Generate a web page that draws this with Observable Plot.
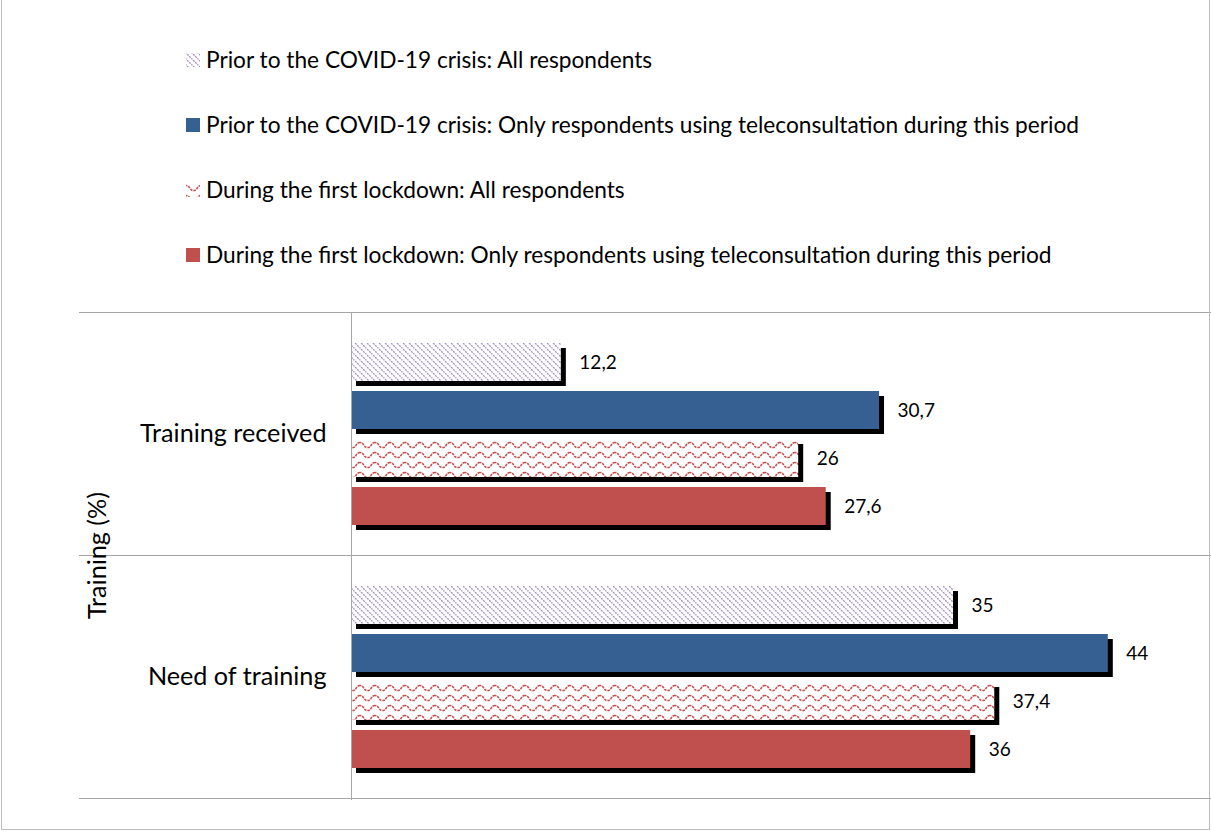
<!DOCTYPE html>
<html>
<head>
<meta charset="utf-8">
<script src="https://cdn.jsdelivr.net/npm/d3@7"></script>
<script src="https://cdn.jsdelivr.net/npm/@observablehq/plot@0.6"></script>
<style>
  html, body { margin: 0; padding: 0; background: #fff; }
  #wrap { position: relative; width: 1211px; height: 832px; overflow: hidden; font-family: Lato, "Open Sans", sans-serif; color: #000; }
  #border { position: absolute; left: 1px; top: -2px; width: 1207px; height: 831px; border-left: 1px solid #bdbdbd; border-right: 1px solid #bdbdbd; border-bottom: 1px solid #bdbdbd; pointer-events: none; }
  #legend { position: absolute; left: 186px; top: 27px; }
  .row { height: 65px; display: flex; align-items: center; font-size: 22.7px; white-space: nowrap; }
  .sw { width: 14px; height: 14px; margin-right: 6px; flex: none; }
  #chart { position: absolute; left: 0; top: 0; }
</style>
</head>
<body>
<div id="wrap">
  <div id="chart"></div>
  <div id="legend"></div>
  <div id="border"></div>
</div>
<script>
// ---- data ----
const categories = ["Training received", "Need of training"];
const series = [
  "Prior to the COVID-19 crisis: All respondents",
  "Prior to the COVID-19 crisis: Only respondents using teleconsultation during this period",
  "During the first lockdown: All respondents",
  "During the first lockdown: Only respondents using teleconsultation during this period"
];
const trainingReceived = [12.2, 30.7, 26, 27.6];
const needOfTraining = [35, 44, 37.4, 36];
const axisTitle = "Training (%)";

// ---- styles ----
const fills = ["url(#pat-diag)", "#376092", "url(#pat-wave)", "#c0504d"];
const gridColor = "#a6a6a6";

const rows = [];
[trainingReceived, needOfTraining].forEach((vals, ci) => {
  vals.forEach((v, si) => rows.push({category: categories[ci], series: series[si], value: v}));
});
const fmt = v => String(v).replace(".", ",");

const defs = `
<defs>
  <pattern id="pat-diag" patternUnits="userSpaceOnUse" width="6" height="6">
    <rect width="6" height="6" fill="#fff"/>
    <path d="M-1,-1 L7,7 M-1,5 L1,7 M5,-1 L7,1" stroke="#9f8ac8" stroke-width="1.3" stroke-dasharray="2 1"/>
  </pattern>
  <pattern id="pat-wave" patternUnits="userSpaceOnUse" width="15" height="10">
    <rect width="15" height="10" fill="#fff"/>
    <path d="M-3.75,5 Q-2.5,2.5 0,2.5 Q2.5,2.5 3.75,5 T7.5,7.5 T11.25,5 T15,2.5 T18.75,5" fill="none" stroke="#c0504d" stroke-width="1.6" stroke-dasharray="2.6 0.9"/>
  </pattern>
</defs>`;

const plot = Plot.plot({
  width: 1211,
  height: 832,
  marginTop: 312,
  marginBottom: 34,
  marginLeft: 351,
  marginRight: 0,
  style: {fontFamily: "Lato, 'Open Sans', sans-serif", color: "#000", background: "transparent"},
  x: {domain: [0, 50], axis: null},
  y: {domain: series, paddingInner: 0.21, paddingOuter: 0.61, axis: null},
  fy: {domain: categories, padding: 0},
  color: {domain: series, range: fills},
  marks: [
    Plot.frame({anchor: "top", stroke: gridColor, insetLeft: -272}),
    Plot.frame({anchor: "bottom", stroke: gridColor, insetLeft: -272}),
    Plot.axisFy({anchor: "left", tickSize: 0, tickPadding: 25, fontSize: 25.2, label: axisTitle, labelAnchor: "center", labelOffset: 263}),
    Plot.barX(rows, {x: "value", y: "series", fy: "category", fill: "#000", dx: 5, dy: 5}),
    Plot.barX(rows, {x: "value", y: "series", fy: "category", fill: "series"}),
    Plot.text(rows, {x: "value", y: "series", fy: "category", text: d => fmt(d.value), dx: 18, textAnchor: "start", fontSize: 19, fill: "#000"}),
    Plot.ruleX([0], {stroke: gridColor, insetBottom: -2})
  ]
});
plot.insertAdjacentHTML("afterbegin", defs);
document.getElementById("chart").appendChild(plot);

// ---- legend ----
const legend = document.getElementById("legend");
series.forEach((s, i) => {
  const row = document.createElement("div");
  row.className = "row";
  const sw = document.createElementNS("http://www.w3.org/2000/svg", "svg");
  sw.setAttribute("class", "sw");
  sw.setAttribute("width", 14);
  sw.setAttribute("height", 14);
  sw.innerHTML = `<rect width="14" height="14" fill="${fills[i]}"/>`;
  row.appendChild(sw);
  const t = document.createElement("span");
  t.textContent = s;
  row.appendChild(t);
  legend.appendChild(row);
});
</script>
</body>
</html>
